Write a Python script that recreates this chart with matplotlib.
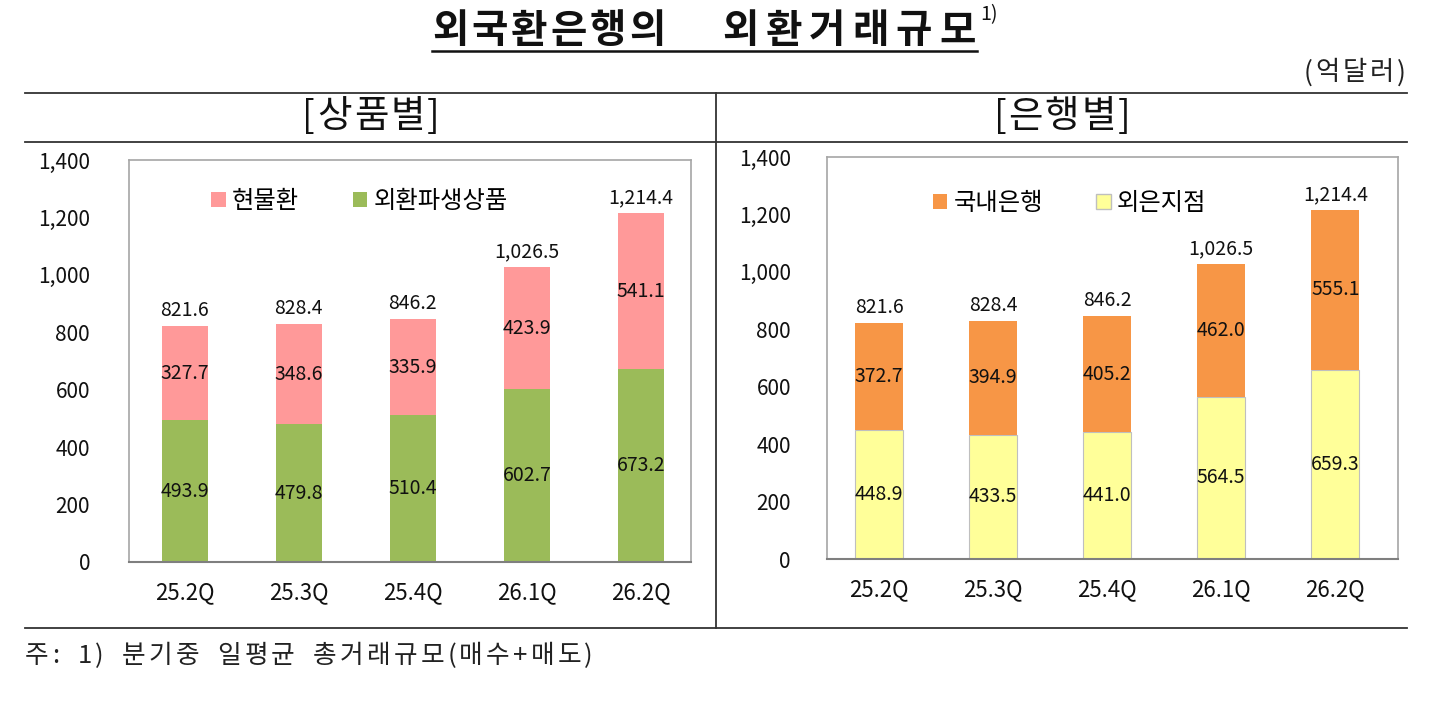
import matplotlib
matplotlib.use("Agg")
import matplotlib.pyplot as plt
from matplotlib.lines import Line2D
from matplotlib.patches import Patch

plt.rcParams['font.family'] = ['Noto Sans CJK KR', 'DejaVu Sans']

categories = ['25.2Q', '25.3Q', '25.4Q', '26.1Q', '26.2Q']
totals = [821.6, 828.4, 846.2, 1026.5, 1214.4]
# 상품별
spot = [327.7, 348.6, 335.9, 423.9, 541.1]
deriv = [493.9, 479.8, 510.4, 602.7, 673.2]
# 은행별
domestic = [372.7, 394.9, 405.2, 462.0, 555.1]
foreign = [448.9, 433.5, 441.0, 564.5, 659.3]
yticks = [0, 200, 400, 600, 800, 1000, 1200, 1400]

W, H = 1444, 721
fig = plt.figure(figsize=(W / 100, H / 100), dpi=100)
renderer = fig.canvas.get_renderer()


def fx(px):
    return px / W


def fy(py):
    return 1 - py / H


def tracked_text(x_px, y_px, s, fontsize, track, space_px, ha='left', **kw):
    """Draw text char by char with extra spacing (px); returns right edge px."""
    widths = []
    for ch in s:
        if ch == ' ':
            widths.append(space_px)
            continue
        t = fig.text(0, 0, ch, fontsize=fontsize, **kw)
        bb = t.get_window_extent(renderer)
        widths.append(bb.width)
        t.remove()
    total = sum(widths) + track * (len(s) - 1)
    if ha == 'center':
        x = x_px - total / 2
    elif ha == 'right':
        x = x_px - total
    else:
        x = x_px
    for ch, w in zip(s, widths):
        if ch != ' ':
            fig.text(fx(x), fy(y_px), ch, ha='left', va='center', fontsize=fontsize, **kw)
        x += w + track
    return x - track


def draw_panel(rect, xlim, width, bottom_vals, top_vals, c_bottom, c_top, e_bottom,
               lab_top, lab_bottom, leg_xy, label_pad):
    ax = fig.add_axes(rect)
    x = list(range(len(categories)))
    ax.bar(x, bottom_vals, width=width, color=c_bottom, edgecolor=e_bottom,
           linewidth=0.8 if e_bottom != 'none' else 0, label=lab_bottom, zorder=2)
    ax.bar(x, top_vals, width=width, bottom=bottom_vals, color=c_top,
           linewidth=0, label=lab_top, zorder=2)
    for i in x:
        ax.text(i, bottom_vals[i] / 2, f"{bottom_vals[i]:.1f}", ha='center', va='center',
                fontsize=14, color='#111111', zorder=3)
        ax.text(i, bottom_vals[i] + top_vals[i] / 2, f"{top_vals[i]:.1f}", ha='center',
                va='center', fontsize=14, color='#111111', zorder=3)
        ax.text(i, totals[i] + 18, f"{totals[i]:,.1f}", ha='center', va='bottom',
                fontsize=14, color='#111111', zorder=3)
    ax.set_xlim(*xlim)
    ax.set_ylim(0, 1400)
    ax.set_yticks(yticks)
    ax.set_yticklabels([f"{v:,}" for v in yticks], fontsize=15, color='#111111')
    ax.set_xticks(x)
    ax.set_xticklabels(categories, fontsize=16, color='#111111')
    ax.tick_params(axis='y', length=0, pad=label_pad)
    ax.tick_params(axis='x', length=0, pad=14)
    for s in ['top', 'right', 'left']:
        ax.spines[s].set_color('#A6A6A6')
        ax.spines[s].set_linewidth(1.2)
    ax.spines['bottom'].set_color('#7F7F7F')
    ax.spines['bottom'].set_linewidth(1.5)
    handles = [Patch(facecolor=c_top, edgecolor='none', label=lab_top),
               Patch(facecolor=c_bottom, edgecolor=e_bottom if e_bottom != 'none' else 'none',
                     label=lab_bottom)]
    ax.legend(handles=handles, loc='center', bbox_to_anchor=leg_xy, ncol=2,
              frameon=False, prop={'size': 17.5, 'weight': 'medium'},
              handlelength=0.6, handleheight=0.6,
              handletextpad=0.25, columnspacing=2.2)
    return ax


# left panel
draw_panel([fx(129), fy(562), fx(691 - 129), (562 - 160) / H], (-0.49, 4.44), 0.40,
           deriv, spot, '#9BBB59', '#FF9999', 'none', '현물환', '외환파생상품',
           (0.41, 0.898), 28)
# right panel
draw_panel([fx(827), fy(559), fx(1398 - 827), (559 - 157) / H], (-0.456, 4.55), 0.42,
           foreign, domestic, '#FFFF99', '#F79646', '#BFBFBF', '국내은행', '외은지점',
           (0.425, 0.886), 26)

# frame lines
line_kw = dict(color='#333333', linewidth=1.3, transform=fig.transFigure)
fig.add_artist(Line2D([fx(25), fx(1407)], [fy(93), fy(93)], **line_kw))
fig.add_artist(Line2D([fx(25), fx(1407)], [fy(142), fy(142)], **line_kw))
fig.add_artist(Line2D([fx(25), fx(1407)], [fy(628), fy(628)], **line_kw))
fig.add_artist(Line2D([fx(716), fx(716)], [fy(93), fy(628)], **line_kw))

# title with underline and superscript
tracked_text(432, 31, '외국환은행의', 28.5, 3, 0, ha='left',
             color='#111111', fontweight='bold')
x_end = tracked_text(722, 31, '외환거래규모', 28.5, 7, 0, ha='left',
                     color='#111111', fontweight='bold')
fig.add_artist(Line2D([fx(432), fx(x_end + 2)], [fy(51), fy(51)], color='#111111',
                      linewidth=1.8, transform=fig.transFigure))
fig.text(fx(x_end + 5), fy(15), '1)', ha='left', va='center', fontsize=14, color='#111111')

tracked_text(1406, 73, '(억달러)', 19, 3, 8, ha='right', color='#222222')
tracked_text(371, 117, '[상품별]', 27, 2, 8, ha='center', color='#111111', fontweight='medium')
tracked_text(1062, 117, '[은행별]', 27, 2, 8, ha='center', color='#111111', fontweight='medium')
tracked_text(25, 656, '주: 1) 분기중 일평균 총거래규모(매수+매도)', 18.5, 3.2, 12, ha='left',
             color='#222222')

fig.savefig('out.png', dpi=100)
